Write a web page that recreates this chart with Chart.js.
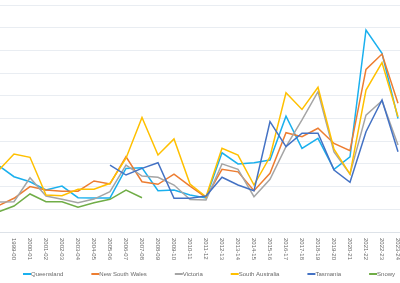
<!DOCTYPE html>
<html>
<head>
<meta charset="utf-8">
<script src="https://cdn.jsdelivr.net/npm/chart.js@4.4.1/dist/chart.umd.min.js"></script>
<style>
    html, body { margin: 0; padding: 0; width: 400px; height: 283px; overflow: hidden; background: #fff; }
    #wrap { position: relative; width: 400px; height: 283px; overflow: hidden; }
    #priceChart { position: absolute; left: -10px; top: 0; }
</style>
</head>
<body>
<div id="wrap"><canvas id="priceChart" width="416" height="283"></canvas></div>
<script>
        // Dados
        const years = ['1998-99', '1999-00', '2000-01', '2001-02', '2002-03', '2003-04', '2004-05',
            '2005-06', '2006-07', '2007-08', '2008-09', '2009-10', '2010-11', '2011-12', '2012-13',
            '2013-14', '2014-15', '2015-16', '2016-17', '2017-18', '2018-19', '2019-20', '2020-21',
            '2021-22', '2022-23', '2023-24'];

        const queensland = [59, 48.7, 44.3, 37, 40.5, 30.2, 30, 30, 56, 56.5, 36.4, 37, 32.6, 30,
            69.8, 60, 61, 63.4, 102, 73.7, 82.5, 55.2, 66.3, 178, 157.4, 100];
        const newSouthWales = [23, 29.7, 40, 37, 36, 36, 45, 42.3, 66.3, 44.3, 42, 51, 40.5, 30.5,
            55.2, 53, 36.4, 51.7, 87.5, 84, 91.4, 78, 71.6, 143.3, 156.8, 113.4];
        const victoria = [26.4, 26.7, 47.8, 31.7, 28.8, 25.8, 29, 35.5, 59, 49.3, 48.2, 41.4, 28.6, 28.2,
            60, 55.2, 31.1, 46.4, 75.2, 98.7, 123.6, 70.5, 51, 103, 115.7, 76.6];
        const southAustralia = [53.7, 68.7, 65.8, 32.6, 32, 37.6, 37.6, 42.9, 65, 101, 67.8, 82, 42.3, 31,
            73.7, 67.8, 41.4, 66.3, 122.7, 108, 127.5, 72.9, 51, 125, 149.2, 101.6];
        const tasmania = [null, null, null, null, null, null, null, 59, 50.2, 56.1, 61, 29.7, 29.7, 31.7,
            48.2, 41.4, 36.4, 97.2, 75.2, 87, 87, 54.6, 43.8, 88.4, 116.3, 70.7];
        const snowy = [17.6, 22.9, 33.5, 26.7, 26.7, 21.8, 25.8, 28.8, 37, 30.2, null, null, null, null,
            null, null, null, null, null, null, null, null, null, null, null, null];

        const seriesNames = ['Queensland', 'New South Wales', 'Victoria', 'South Australia', 'Tasmania', 'Snowy'];
        const seriesData = [queensland, newSouthWales, victoria, southAustralia, tasmania, snowy];
        const seriesColors = ['#1ab0ee', '#ed7d31', '#a5a5a5', '#ffc000', '#4472c4', '#70ad47'];

        const FONT = '6px "Liberation Sans", Arial, sans-serif';
        const TEXT_COLOR = '#6a6a6a';

        // Rótulos do eixo X (verticais, lidos de cima para baixo) e legenda
        const labelsPlugin = {
            id: 'customLabels',
            afterDraw(chart) {
                const ctx = chart.ctx;
                const xScale = chart.scales.x;
                const bottom = chart.chartArea.bottom;

                ctx.save();
                ctx.font = FONT;
                ctx.fillStyle = TEXT_COLOR;
                ctx.textAlign = 'left';
                ctx.textBaseline = 'middle';
                years.forEach((label, i) => {
                    const x = xScale.getPixelForValue(i);
                    ctx.save();
                    ctx.translate(x, bottom + 6);
                    ctx.rotate(Math.PI / 2);
                    ctx.fillText(label, 0, 0);
                    ctx.restore();
                });

                // legenda
                const offsetX = -chart.canvas.offsetLeft;
                let lx = 23 + offsetX;
                const ly = 274;
                seriesNames.forEach((name, i) => {
                    ctx.strokeStyle = seriesColors[i];
                    ctx.lineWidth = 2;
                    ctx.beginPath();
                    ctx.moveTo(lx, ly);
                    ctx.lineTo(lx + 8, ly);
                    ctx.stroke();
                    ctx.fillText(name, lx + 8, ly);
                    lx += 8 + ctx.measureText(name).width + 28;
                });
                ctx.restore();
            }
        };

        const ctx = document.getElementById('priceChart').getContext('2d');
        const priceChart = new Chart(ctx, {
            type: 'line',
            data: {
                labels: years,
                datasets: seriesNames.map((name, i) => ({
                    label: name,
                    data: seriesData[i],
                    borderColor: seriesColors[i],
                    backgroundColor: seriesColors[i],
                    borderWidth: 1.5,
                    pointRadius: 0,
                    tension: 0,
                    spanGaps: false,
                    order: seriesNames.length - i
                }))
            },
            options: {
                responsive: false,
                devicePixelRatio: 1,
                animation: false,
                layout: {
                    autoPadding: false,
                    padding: { top: 5, bottom: 51, left: 0, right: 0 }
                },
                plugins: {
                    legend: { display: false },
                    tooltip: { enabled: false }
                },
                scales: {
                    x: {
                        offset: true,
                        grid: { display: false, drawTicks: false },
                        border: { display: true, color: '#dde2e8', width: 1 },
                        ticks: { display: false },
                        afterFit: (scale) => { scale.height = 0; }
                    },
                    y: {
                        min: 0,
                        max: 200,
                        ticks: { display: false, stepSize: 20 },
                        grid: { color: '#e9edf2', drawTicks: false },
                        border: { display: false },
                        afterFit: (scale) => { scale.width = 0; }
                    }
                }
            },
            plugins: [labelsPlugin]
        });
</script>
</body>
</html>
